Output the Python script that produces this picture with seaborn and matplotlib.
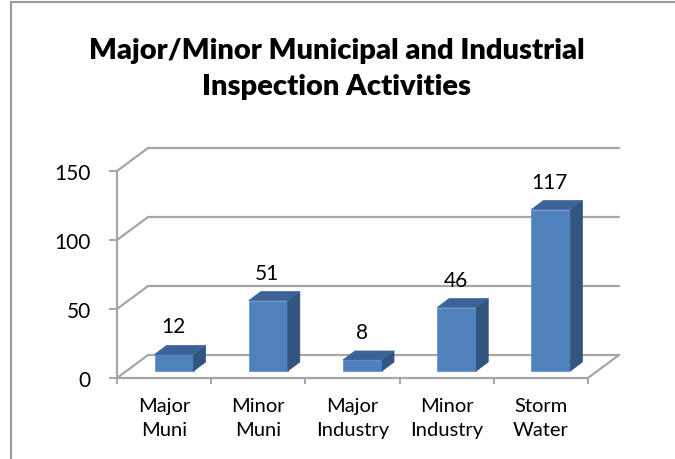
import numpy as np
import pandas as pd
import matplotlib
matplotlib.use("Agg")
import matplotlib.pyplot as plt
import matplotlib.transforms as mtransforms
from matplotlib.patches import Polygon
from matplotlib.lines import Line2D
import seaborn as sns

categories = ["Major\nMuni", "Minor\nMuni", "Major\nIndustry", "Minor\nIndustry", "Storm\nWater"]
values = [12, 51, 8, 46, 117]
yticks = [0, 50, 100, 150]
title = "Major/Minor Municipal and Industrial\nInspection Activities"

sns.set_theme(style="white")
plt.rcParams["font.family"] = ["Lato", "DejaVu Sans"]
plt.rcParams["text.color"] = "black"
plt.rcParams["xtick.labelcolor"] = "black"
plt.rcParams["ytick.labelcolor"] = "black"

W, H = 675, 460
fig = plt.figure(figsize=(W / 100, H / 100), dpi=100)
# front plane of the plot area (pixel coordinates from top-left)
x0p, x1p, ytop, ybot = 117, 588, 172, 379
ax = fig.add_axes([x0p / W, 1 - ybot / H, (x1p - x0p) / W, (ybot - ytop) / H])

df = pd.DataFrame({"cat": categories, "val": values})
FRONT = "#4F81BD"
SIDE = "#32557F"
TOP = "#3C6399"
GRID = "#A6A6A6"

sns.barplot(data=df, x="cat", y="val", color=FRONT, saturation=1, width=0.415, ax=ax, zorder=3)
ax.set_xlim(-0.5, 4.5)
ax.set_ylim(0, 150)

dpi_tr = fig.dpi_scale_trans
def off(dx, dy):
    return ax.transData + mtransforms.ScaledTranslation(dx / 100, dy / 100, dpi_tr)

BAR_OFF = (10, 7)      # bar front face offset into depth (px)
BAR_DEPTH = (12, 9)    # bar depth (px)
WALL = (31, 23)        # full depth (px)
front_tr = off(*BAR_OFF)
ident = mtransforms.IdentityTransform()

def disp(x, y, dx=0, dy=0):
    p = ax.transData.transform((x, y))
    return (p[0] + dx, p[1] + dy)

# back wall gridlines and left wall diagonals
for v in yticks:
    a = disp(-0.5, v, *WALL)
    b = disp(4.5, v, *WALL)
    ax.add_line(Line2D([a[0], b[0]], [a[1], b[1]], transform=ident, color=GRID, lw=1.6, clip_on=False, zorder=1))
    f = disp(-0.5, v)
    ax.add_line(Line2D([f[0], a[0]], [f[1], a[1]], transform=ident, color=GRID, lw=1.6, clip_on=False, zorder=1))
# right floor edge
f = disp(4.5, 0)
b = disp(4.5, 0, *WALL)
ax.add_line(Line2D([f[0], b[0]], [f[1], b[1]], transform=ident, color=GRID, lw=1.6, clip_on=False, zorder=1))

# bars: shift fronts, add side and top faces, labels
for patch, v in zip(ax.patches, values):
    patch.set_transform(front_tr)
    patch.set_clip_on(False)
    patch.set_edgecolor("#5A8AC6")
    patch.set_linewidth(0.5)
    bx, bw, bh = patch.get_x(), patch.get_width(), patch.get_height()
    dx, dy = BAR_DEPTH
    p1 = np.array(front_tr.transform((bx + bw, 0)))
    p2 = np.array(front_tr.transform((bx + bw, bh)))
    p3 = np.array(front_tr.transform((bx, bh)))
    d = np.array([dx, dy])
    side = Polygon([p1, p2, p2 + d, p1 + d], closed=True, transform=ident,
                   facecolor=SIDE, edgecolor=SIDE, lw=0.5, clip_on=False, zorder=3)
    top = Polygon([p3, p2, p2 + d, p3 + d], closed=True, transform=ident,
                  facecolor=TOP, edgecolor=TOP, lw=0.5, clip_on=False, zorder=3)
    ax.add_patch(side)
    ax.add_patch(top)
    ax.annotate(f"{v}", xy=(bx + bw / 2, bh), xycoords=front_tr,
                xytext=(-0.7, 28 * 0.72), textcoords="offset points",
                ha="center", va="center", fontsize=15, color="black", zorder=5)

# spines / ticks
for s in ["top", "right"]:
    ax.spines[s].set_visible(False)
for s in ["left", "bottom"]:
    ax.spines[s].set_color(GRID)
    ax.spines[s].set_linewidth(1.6)
    ax.spines[s].set_zorder(4)
ax.set_yticks(yticks)
ax.set_yticklabels([str(t) for t in yticks], fontsize=15)
ax.tick_params(axis="y", which="major", direction="out", length=6, width=1.4, color=GRID, pad=13, left=True)
ax.set_xticks(range(len(categories)))
ax.set_xticklabels(categories, fontsize=14.5, linespacing=1.5)
ax.set_xticks(np.arange(-0.5, 5, 1.0), minor=True)
ax.tick_params(axis="x", which="major", length=0, pad=14)
ax.tick_params(axis="x", which="minor", direction="out", length=4, width=1.4, color=GRID, bottom=True)
ax.set_xlabel("")
ax.set_ylabel("")
ax.grid(False)
ax.patch.set_alpha(0)

fig.text(337 / W, 1 - 69 / H, title, ha="center", va="center", fontsize=21,
         fontweight="heavy", linespacing=1.45, color="black")

# chart frame (top and left edges visible)
fig.add_artist(Line2D([10.5 / W, 1], [1 - 3 / H, 1 - 3 / H], transform=fig.transFigure, color="#9A9A9A", lw=1.5))
fig.add_artist(Line2D([10.5 / W, 10.5 / W], [0, 1 - 3 / H], transform=fig.transFigure, color="#9A9A9A", lw=1.5))

fig.savefig("out.png", dpi=100)
